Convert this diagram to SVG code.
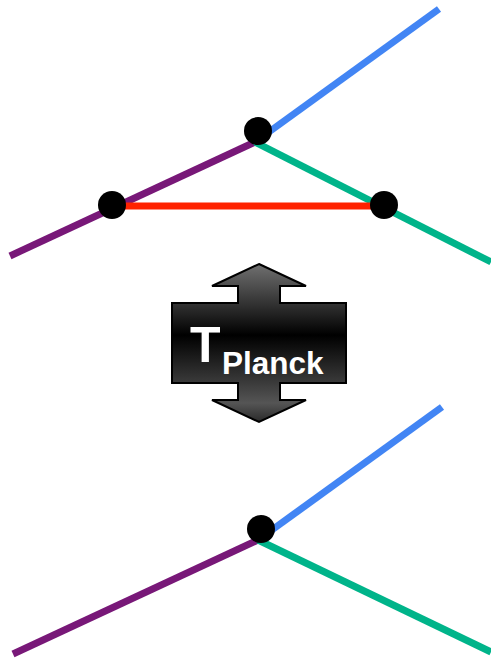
<svg xmlns="http://www.w3.org/2000/svg" width="491" height="660" viewBox="0 0 491 660">
<style>
.ln{fill:none;stroke-width:7;stroke-linecap:butt}
.pu{stroke:#781878}.bl{stroke:#4285f4}.gr{stroke:#00b48a}.rd{stroke:#ff2200}
.dot{fill:#000}
.lbl{font-family:"Liberation Sans",Arial,sans-serif;font-weight:bold;fill:#fff}
</style>
<defs>
<linearGradient id="ag" x1="0" y1="264" x2="0" y2="422" gradientUnits="userSpaceOnUse">
<stop offset="0" stop-color="#707070"/>
<stop offset="0.25" stop-color="#333"/>
<stop offset="0.45" stop-color="#000"/>
<stop offset="0.75" stop-color="#3a3a3a"/>
<stop offset="0.88" stop-color="#555"/>
<stop offset="1" stop-color="#2a2a2a"/>
</linearGradient>
</defs>
<g id="connectors">
<line class="ln pu" x1="10" y1="256" x2="255" y2="142"/>
<line class="ln bl" x1="255" y1="142" x2="439" y2="9"/>
<line class="ln gr" x1="255" y1="142" x2="491" y2="262"/>
<line class="ln rd" x1="112" y1="206" x2="384" y2="206"/>
<line class="ln pu" x1="13" y1="654" x2="258" y2="540"/>
<line class="ln bl" x1="258" y1="540" x2="442" y2="407"/>
<line class="ln gr" x1="258" y1="540" x2="491" y2="652"/>
</g>
<g id="node-top"><circle class="dot" cx="258" cy="131" r="14"/></g>
<g id="node-left"><circle class="dot" cx="112" cy="205" r="14"/></g>
<g id="node-right"><circle class="dot" cx="384" cy="205" r="14"/></g>
<g id="node-bottom"><circle class="dot" cx="261" cy="529" r="14"/></g>
<g id="tplanck">
<path d="M259,264 L306,286 L280,286 L280,303 L346,303 L346,383 L280,383 L280,400 L306,400 L259,422 L212,400 L238,400 L238,383 L172,383 L172,303 L238,303 L238,286 L212,286 Z" fill="url(#ag)" stroke="#000" stroke-width="2" stroke-linejoin="miter"/>
<text class="lbl" x="190" y="362" font-size="50">T</text>
<text class="lbl" x="222" y="374" font-size="31.5">Planck</text>
</g>
</svg>
